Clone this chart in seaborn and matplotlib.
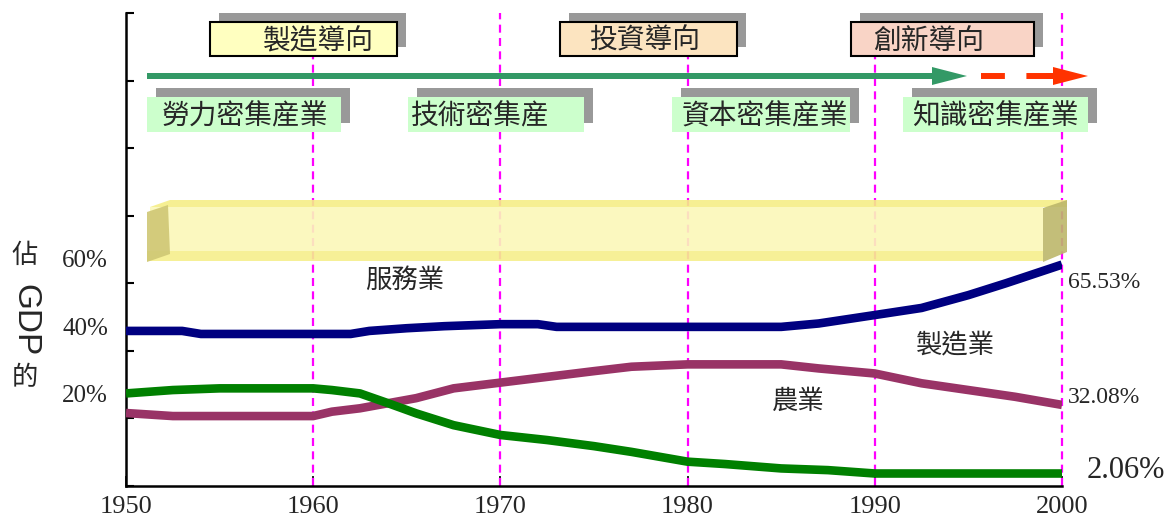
import matplotlib
matplotlib.use("Agg")
import matplotlib.pyplot as plt
import matplotlib.patches as mpatches
import seaborn as sns
import pandas as pd

# share of GDP (%), one list per sector
services_years = [1950, 1953, 1954, 1962, 1963, 1965, 1967, 1970, 1972, 1973,
                  1985, 1987, 1990, 1992.5, 1995, 1997, 2000]
services_share = [45.9, 45.9, 45.0, 45.0, 45.9, 46.7, 47.3, 47.9, 47.9, 47.1,
                  47.1, 48.1, 50.6, 52.7, 56.5, 60.0, 65.53]

manuf_years = [1950, 1952.5, 1960, 1961, 1962.5, 1964, 1965.5, 1967.5, 1970, 1972.5,
               1975, 1977, 1980, 1985, 1987, 1990, 1992.5, 1995, 1997.5, 2000]
manuf_share = [21.6, 20.7, 20.7, 22.0, 23.0, 24.5, 26.0, 28.9, 30.6, 32.3,
               34.0, 35.3, 36.0, 36.0, 34.8, 33.3, 30.4, 28.4, 26.4, 24.0]

agri_years = [1950, 1952.5, 1955, 1960, 1961, 1962.5, 1964, 1965.5, 1967.5, 1970,
              1972.5, 1975, 1977, 1980, 1982, 1985, 1987.5, 1990, 2000]
agri_share = [27.4, 28.4, 28.9, 28.9, 28.4, 27.4, 24.5, 21.5, 18.0, 15.1,
              13.6, 11.8, 10.1, 7.2, 6.5, 5.2, 4.7, 3.7, 3.7]

sector_names = ["服務業", "製造業", "農業"]
sector_colors = {"服務業": "#000080", "製造業": "#993366", "農業": "#008000"}
end_labels = ["65.53%", "32.08%", "2.06%"]

decades = [1950, 1960, 1970, 1980, 1990, 2000]
y_ticks = [0, 20, 40, 60, 80, 100, 120, 140]
y_labels = [20, 40, 60]

stage_labels = ["製造導向", "投資導向", "創新導向"]
industry_labels = ["勞力密集産業", "技術密集産", "資本密集産業", "知識密集産業"]

sns.set_style("white")
plt.rcParams['font.family'] = ['Liberation Serif', 'Noto Sans CJK TC', 'DejaVu Sans']
CJK = ['Noto Sans CJK TC', 'DejaVu Sans']

frames = []
for name, yrs, vals in zip(sector_names,
                           [services_years, manuf_years, agri_years],
                           [services_share, manuf_share, agri_share]):
    frames.append(pd.DataFrame({"year": yrs, "share": vals, "sector": name}))
df = pd.concat(frames, ignore_index=True)

fig = plt.figure(figsize=(11.7, 5.19), dpi=100)
ax = fig.add_axes([126 / 1170, 33 / 519, 936 / 1170, 473 / 519])

for yr in decades[1:]:
    ax.axvline(yr, color="#FF00FF", lw=1.6, ls=(0, (3.6, 2.4)), clip_on=False, zorder=1)

sns.lineplot(data=df, x="year", y="share", hue="sector", hue_order=sector_names,
             palette=sector_colors, linewidth=6.2, legend=False, errorbar=None,
             solid_capstyle="butt", ax=ax, zorder=3)

ax.set_xlim(1950, 2000)
ax.set_ylim(0, 140)
ax.set_xticks(decades)
ax.set_xticklabels([str(d) for d in decades], fontsize=19)
ax.set_yticks(y_ticks)
ax.set_yticklabels([])
ax.tick_params(axis="y", left=True, direction="in", length=6, width=1.5, color="black")
ax.tick_params(axis="x", bottom=True, direction="in", length=7, width=1.2, color="black", pad=7)
ax.set_xlabel("")
ax.set_ylabel("")
sns.despine(ax=ax)
for side in ["left", "bottom"]:
    ax.spines[side].set_linewidth(1.8)
    ax.spines[side].set_color("black")

# tick labels sit a little above their ticks in the original
for v in y_labels:
    ax.annotate(f"{v}%", xy=(0, v), xycoords=("axes fraction", "data"),
                xytext=(-13, 16), textcoords="offset points",
                ha="right", va="center", fontsize=18)

# end-of-line values
ends = [(services_share[-1], end_labels[0], 4, -13, 17),
        (manuf_share[-1], end_labels[1], 4, 5, 17),
        (agri_share[-1], end_labels[2], 18, 2.5, 22)]
for val, txt, dx, dy, fs in ends:
    ax.annotate(txt, xy=(2000, val), xytext=(dx, dy), textcoords="offset points",
                ha="left", va="center", fontsize=fs, annotation_clip=False)

# sector names
ax.text(1964.9, 60.9, sector_names[0], family=CJK, fontsize=19, ha="center", va="center")
ax.text(1994.3, 41.7, sector_names[1], family=CJK, fontsize=19, ha="center", va="center")
ax.text(1985.9, 24.9, sector_names[2], family=CJK, fontsize=19, ha="center", va="center")

# overlay in pixel units for the schematic decorations
ov = fig.add_axes([0, 0, 1, 1], zorder=5)
ov.set_xlim(0, 1170)
ov.set_ylim(519, 0)
ov.axis("off")

# yellow 3D band
band = [
    ([(150, 207), (170, 200), (1067, 200), (1067, 207)], "#F6EE86"),
    ([(150, 207), (1043, 207), (1043, 251), (150, 251)], "#FBF8B8"),
    ([(147, 251), (1043, 251), (1043, 261), (147, 261)], "#F6EF8C"),
    ([(147, 212), (168, 205), (170, 254), (147, 262)], "#CFC774"),
    ([(1043, 208), (1067, 200), (1067, 252), (1043, 262)], "#BDB76B"),
]
for pts, col in band:
    ov.add_patch(mpatches.Polygon(pts, closed=True, facecolor=col, edgecolor="none", alpha=0.9))

# stage boxes with shadows
stage_boxes = [(210, 187, "#FFFFC0", 318), (560, 177, "#FCE4C0", 645), (851, 183, "#F9D4C6", 929)]
for (x0, w, col, tx), label in zip(stage_boxes, stage_labels):
    ov.add_patch(mpatches.Rectangle((x0 + 9, 13), w, 34, facecolor="#999999", edgecolor="none"))
    ov.add_patch(mpatches.Rectangle((x0, 22), w, 34, facecolor=col, edgecolor="black", lw=1.5))
    ov.text(tx, 41, label, family=CJK, fontsize=20, ha="center", va="center")

# development arrows
ov.add_patch(mpatches.FancyArrow(147, 76, 820, 0, width=6, head_width=18, head_length=35,
                                 length_includes_head=True, color="#339966", lw=0))
ov.plot([981, 1050], [76, 76], color="#FF3300", lw=4.3, dashes=(4.0, 3.6), solid_capstyle="butt")
ov.add_patch(mpatches.FancyArrow(1046, 76, 42, 0, width=6, head_width=18, head_length=35,
                                 length_includes_head=True, color="#FF3300", lw=0))

# industry boxes with shadows
industry_boxes = [(147, 194, 245), (408, 176, 480), (672, 178, 765), (903, 185, 995)]
for (x0, w, tx), label in zip(industry_boxes, industry_labels):
    ov.add_patch(mpatches.Rectangle((x0 + 9, 88), w, 35, facecolor="#999999", edgecolor="none"))
    ov.add_patch(mpatches.Rectangle((x0, 97), w, 35, facecolor="#CCFFCC", edgecolor="none"))
    ov.text(tx, 116, label, family=CJK, fontsize=20, ha="center", va="center")

# vertical axis title
ov.text(25, 255, "佔", family=CJK, fontsize=19, ha="center", va="center")
ov.text(25, 320, "GDP", family=["Liberation Sans", "DejaVu Sans"], fontsize=24,
        rotation=-90, ha="center", va="center")
ov.text(25, 378, "的", family=CJK, fontsize=19, ha="center", va="center")

fig.savefig("out.png", dpi=100)
